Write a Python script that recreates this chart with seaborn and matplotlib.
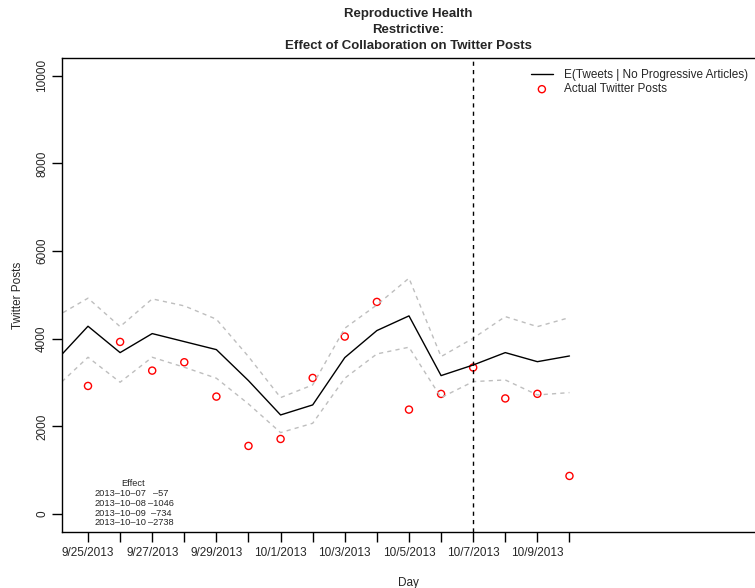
import pandas as pd
import numpy as np
import seaborn as sns
import matplotlib.pyplot as plt
import matplotlib.dates as mdates

sns.set_style("white")
plt.rcParams["font.family"] = ["Liberation Sans", "DejaVu Sans"]

# expected tweets (no progressive articles) with bounds, 9/24 - 10/10
days = pd.date_range("2013-09-24", "2013-10-10", freq="D")
expected = [3496, 4285, 3683, 4117, 3934, 3751, 3043, 2260, 2489,
            3569, 4186, 4521, 3158, 3400, 3683, 3476, 3606]
upper = [4501, 4925, 4276, 4909, 4749, 4445, 3592, 2656, 2945,
         4239, 4772, 5381, 3592, 4011, 4505, 4276, 4482]
lower = [2890, 3577, 3007, 3577, 3349, 3098, 2511, 1857, 2070,
         3098, 3653, 3806, 2656, 3021, 3059, 2717, 2770]

# actual twitter posts, 9/25 - 10/10
actual_days = days[1:]
actual = [2922, 3927, 3272, 3463, 2679, 1553, 1712, 3105,
          4049, 4840, 2382, 2740, 3343, 2637, 2742, 868]

event_day = pd.Timestamp("2013-10-07")
effect_dates = ["2013-10-07", "2013-10-08", "2013-10-09", "2013-10-10"]
effect_vals = [-57, -1046, -734, -2738]

df = pd.DataFrame({"day": days, "expected": expected, "upper": upper, "lower": lower})
obs = pd.DataFrame({"day": actual_days, "actual": actual})

W, H = 755, 588
fig = plt.figure(figsize=(W / 100, H / 100), dpi=100)
ax = fig.add_axes([62 / W, (H - 531.5) / H, (W - 62) / W, (531.5 - 58.3) / H])

sns.lineplot(data=df, x="day", y="upper", ax=ax, color="#BEBEBE", lw=1,
             dashes=False, legend=False)
sns.lineplot(data=df, x="day", y="lower", ax=ax, color="#BEBEBE", lw=1,
             dashes=False, legend=False)
for ln in ax.get_lines():
    ln.set_dashes((3, 3))
sns.lineplot(data=df, x="day", y="expected", ax=ax, color="black", lw=1,
             label="E(Tweets | No Progressive Articles)")
sns.scatterplot(data=obs, x="day", y="actual", ax=ax, marker="o", s=26,
                facecolor="none", edgecolor="red", linewidth=1,
                label="Actual Twitter Posts")
ax.axvline(event_day, color="black", lw=1, dashes=(3, 3))

d0 = mdates.date2num(pd.Timestamp("2013-09-25"))
ax.set_xlim(d0 - 0.81, d0 + 20.78)
ax.set_ylim(-400, 10400)

tick_days = days[1:]
ax.set_xticks(mdates.date2num(tick_days))
ax.set_xticklabels([f"{d.month}/{d.day}/{d.year}" if i % 2 == 0 else ""
                    for i, d in enumerate(tick_days)], fontsize=8.5)
ax.set_yticks([0, 2000, 4000, 6000, 8000, 10000])
ax.set_yticklabels(["0", "2000", "4000", "6000", "8000", "10000"],
                   rotation=90, va="center", fontsize=8.5)
ax.tick_params(axis="both", direction="out", length=7, width=1, color="black",
               left=True, bottom=True)
ax.tick_params(axis="x", pad=4)
ax.tick_params(axis="y", pad=3)

for s in ["left", "bottom", "top"]:
    ax.spines[s].set_color("black")
    ax.spines[s].set_linewidth(1)
ax.spines["right"].set_visible(False)

ax.set_xlabel("Day", fontsize=8.5, labelpad=13)
ax.set_ylabel("Twitter Posts", fontsize=8.5, labelpad=9)
ax.set_title("Reproductive Health\nRestrictive:\nEffect of Collaboration on Twitter Posts",
             fontsize=9.5, fontweight="bold", linespacing=1.4, pad=7)

h, l = ax.get_legend_handles_labels()
ax.legend(h, l, loc="upper right", bbox_to_anchor=(1.005, 1.0), frameon=False,
          fontsize=8.5, handlelength=1.9, handletextpad=0.9, labelspacing=0.2,
          borderaxespad=0.5)

# effect table in the lower-left corner
fig.text(133 / W, 1 - 483.3 / H, "Effect", fontsize=6.7, va="center", ha="center")
row_y = [494, 503.5, 513, 522.5]
for y, d, v in zip(row_y, effect_dates, effect_vals):
    fig.text(95 / W, 1 - y / H, d.replace("-", "\u2013"), fontsize=6.7, va="center")
    fig.text(161 / W, 1 - y / H, str(v).replace("-", "\u2013"), fontsize=6.7,
             va="center", ha="center")

fig.savefig("out.png", dpi=100)
